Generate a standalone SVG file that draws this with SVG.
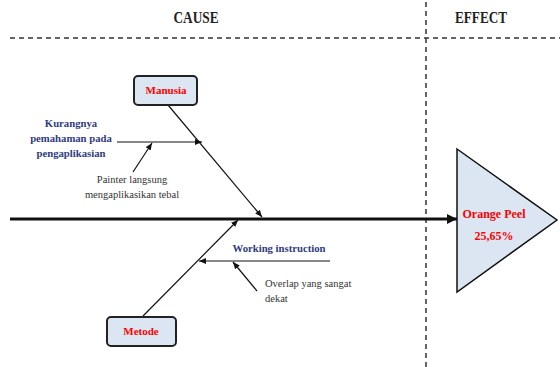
<svg xmlns="http://www.w3.org/2000/svg" width="560" height="367" viewBox="0 0 560 367">
<style>
.hdr{font-family:"Liberation Serif",serif;font-weight:bold;font-size:16px;fill:#222;text-anchor:middle}
.dash{stroke:#333;stroke-width:1.5;stroke-dasharray:5,4;fill:none}
.box{fill:#dce6f2;stroke:#222;stroke-width:2}
.red{font-family:"Liberation Serif",serif;font-weight:bold;font-size:11px;fill:#ff0000;text-anchor:middle}
.blue{font-family:"Liberation Serif",serif;font-weight:bold;font-size:10.7px;fill:#2f3d7f;text-anchor:middle}
.norm{font-family:"Liberation Serif",serif;font-size:10.5px;fill:#333}
.ln{stroke:#111;stroke-width:1.2;fill:none}
</style>
<defs>
<marker id="ah" markerWidth="8" markerHeight="8" refX="7" refY="4" orient="auto" markerUnits="userSpaceOnUse">
<path d="M0,1 L7,4 L0,7 Z" fill="#111"/>
</marker>
<marker id="ahb" markerWidth="12" markerHeight="12" refX="10" refY="6" orient="auto" markerUnits="userSpaceOnUse">
<path d="M0,1 L10,6 L0,11 Z" fill="#111"/>
</marker>
</defs>
<rect width="560" height="367" fill="#fff"/>
<g id="header">
<text class="hdr" x="196" y="23" textLength="45" lengthAdjust="spacingAndGlyphs">CAUSE</text>
<text class="hdr" x="481" y="23" textLength="52" lengthAdjust="spacingAndGlyphs">EFFECT</text>
<line class="dash" x1="10" y1="38" x2="560" y2="38"/>
<line class="dash" x1="426" y1="2" x2="426" y2="367"/>
</g>
<g id="connectors">
<line x1="10" y1="219" x2="457" y2="219" stroke="#111" stroke-width="3" marker-end="url(#ahb)"/>
<line class="ln" x1="168" y1="105" x2="262" y2="217" marker-end="url(#ah)"/>
<line class="ln" x1="117" y1="142" x2="202" y2="142" marker-end="url(#ah)"/>
<line class="ln" x1="133" y1="172" x2="152" y2="143" marker-end="url(#ah)"/>
<line class="ln" x1="143" y1="316" x2="238" y2="220" marker-end="url(#ah)"/>
<line class="ln" x1="330" y1="261" x2="199" y2="261" marker-end="url(#ah)"/>
<line class="ln" x1="257" y1="291" x2="233" y2="262" marker-end="url(#ah)"/>
</g>
<g id="manusia">
<rect class="box" x="134" y="76" width="63" height="29" rx="4"/>
<text class="red" x="166" y="94">Manusia</text>
</g>
<g id="metode">
<rect class="box" x="107" y="317" width="69" height="29" rx="4"/>
<text class="red" x="141" y="335">Metode</text>
</g>
<g id="effect">
<polygon points="457,149 557,220 457,292" fill="#dce6f2" stroke="#111" stroke-width="1.5"/>
<text class="red" x="494" y="218" style="font-size:12px">Orange Peel</text>
<text class="red" x="494" y="240" style="font-size:12px">25,65%</text>
</g>
<g id="kurangnya">
<text class="blue" x="71" y="127">Kurangnya</text>
<text class="blue" x="71" y="142">pemahaman pada</text>
<text class="blue" x="71" y="157">pengaplikasian</text>
</g>
<g id="painter">
<text class="norm" x="132" y="183" text-anchor="middle">Painter langsung</text>
<text class="norm" x="132" y="198" text-anchor="middle">mengaplikasikan tebal</text>
</g>
<g id="working">
<text class="blue" x="279" y="252">Working instruction</text>
</g>
<g id="overlap">
<text class="norm" x="265" y="287">Overlap yang sangat</text>
<text class="norm" x="265" y="302">dekat</text>
</g>
</svg>
